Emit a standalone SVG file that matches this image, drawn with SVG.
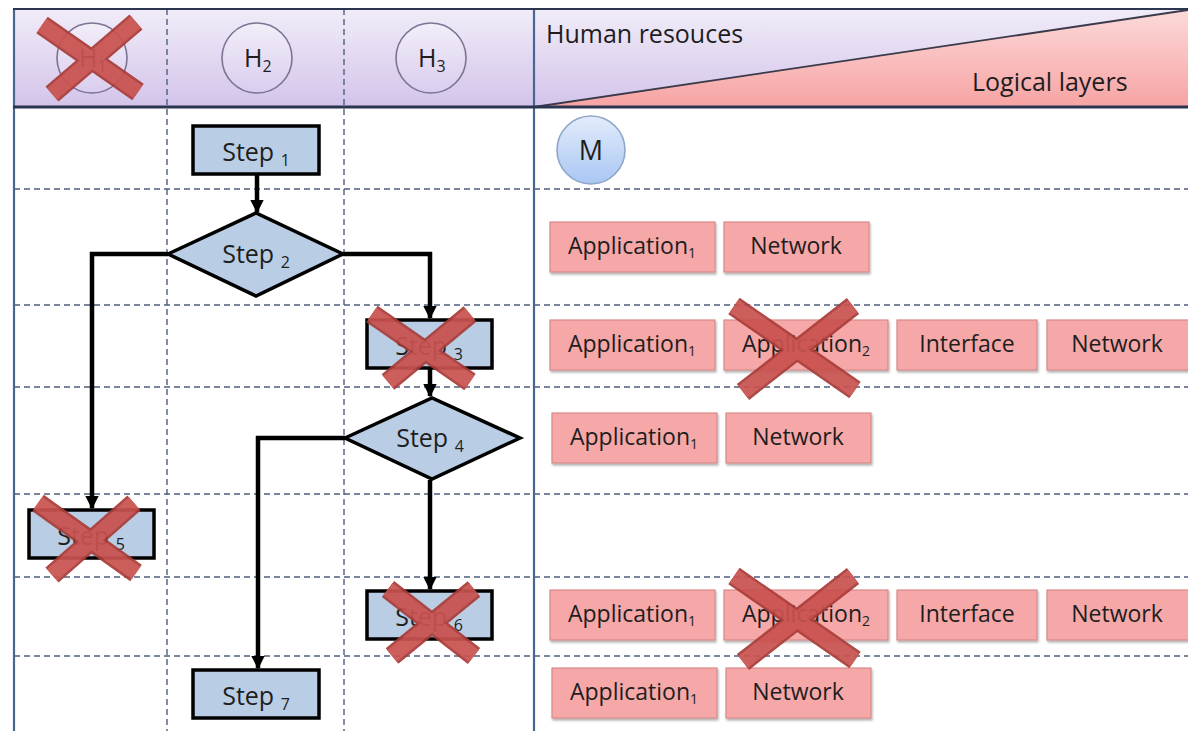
<svg xmlns="http://www.w3.org/2000/svg" width="1188" height="731" viewBox="0 0 1188 731">
<defs>
<linearGradient id="lav" x1="0" y1="0" x2="0" y2="1"><stop offset="0" stop-color="#f1ecf8"/><stop offset="1" stop-color="#d3c4ea"/></linearGradient>
<linearGradient id="pinkH" x1="0" y1="0" x2="0" y2="1"><stop offset="0" stop-color="#fcd9d9"/><stop offset="1" stop-color="#f7a3a3"/></linearGradient>
<linearGradient id="circ" x1="0" y1="0" x2="0" y2="1"><stop offset="0" stop-color="#f3eef9"/><stop offset="1" stop-color="#d9cdee"/></linearGradient>
<linearGradient id="mg" x1="0" y1="0" x2="0" y2="1"><stop offset="0" stop-color="#e3ecfb"/><stop offset="1" stop-color="#a9c6f3"/></linearGradient>
<marker id="arr" viewBox="0 0 10 10" refX="9" refY="5" markerWidth="3" markerHeight="3" orient="auto"><path d="M0,0 L10,5 L0,10 z" fill="#000"/></marker>
<filter id="sh" x="-10%" y="-10%" width="130%" height="140%"><feDropShadow dx="1" dy="2" stdDeviation="1.2" flood-color="#000" flood-opacity="0.3"/></filter>
</defs>
<style>
.t{font-family:"Open Sans","Liberation Sans",sans-serif;fill:#1e1e1e;}
.step{fill:#b9cde5;stroke:#000;stroke-width:3.5;}
.box{fill:#f6a7a7;stroke:#d68a8a;stroke-width:1.2;filter:url(#sh);}
.grid{stroke:#4f5f7f;stroke-width:1.4;stroke-dasharray:6 4;fill:none;}
.conn{stroke:#000;stroke-width:4.5;fill:none;marker-end:url(#arr);}
.x1{stroke:#a93c38;stroke-width:20;stroke-linecap:butt;}
.x2{stroke:#c9524f;stroke-width:15;stroke-linecap:butt;}
.hc{fill:url(#circ);stroke:#7d7394;stroke-width:1.6;}
</style>
<rect width="1188" height="731" fill="#fff"/>
<g id="header">
<rect x="14" y="9" width="520" height="98" fill="url(#lav)"/>
<polygon points="534,9 1188,9 1188,10 534,107" fill="url(#lav)"/>
<polygon points="534,107 1188,10 1188,107" fill="url(#pinkH)"/>
<line x1="534" y1="107" x2="1188" y2="10" stroke="#3a3a4a" stroke-width="1.8"/>
<text class="t" x="546" y="43" font-size="25">Human resouces</text>
<text class="t" x="972" y="91" font-size="25">Logical layers</text>
</g>
<g id="grid">
<line class="grid" x1="167" y1="9" x2="167" y2="731"/>
<line class="grid" x1="344" y1="9" x2="344" y2="731"/>
<line class="grid" x1="14" y1="189" x2="1188" y2="189"/>
<line class="grid" x1="14" y1="305" x2="1188" y2="305"/>
<line class="grid" x1="14" y1="387" x2="1188" y2="387"/>
<line class="grid" x1="14" y1="494" x2="1188" y2="494"/>
<line class="grid" x1="14" y1="577" x2="1188" y2="577"/>
<line class="grid" x1="14" y1="656" x2="1188" y2="656"/>
</g>
<g id="frame" fill="none">
<line x1="14" y1="9" x2="14" y2="731" stroke="#4a6592" stroke-width="2.2"/>
<line x1="534" y1="9" x2="534" y2="731" stroke="#4a6592" stroke-width="2.2"/>
<line x1="13" y1="9" x2="1188" y2="9" stroke="#2b3550" stroke-width="2.2"/>
<line x1="13" y1="107" x2="1188" y2="107" stroke="#2b3550" stroke-width="3"/>
</g>
<g id="H1"><circle class="hc" cx="92" cy="58" r="35"/><text class="t" x="79" y="67" font-size="25">H<tspan font-size="16" dy="5">1</tspan></text></g>
<g id="H2"><circle class="hc" cx="257" cy="58" r="35"/><text class="t" x="244" y="67" font-size="25">H<tspan font-size="16" dy="5">2</tspan></text></g>
<g id="H3"><circle class="hc" cx="431" cy="58" r="35"/><text class="t" x="418" y="67" font-size="25">H<tspan font-size="16" dy="5">3</tspan></text></g>
<g id="M"><circle cx="591" cy="150" r="34" fill="url(#mg)" stroke="#8ea6c8" stroke-width="1.6"/><text class="t" x="591" y="160" font-size="27" text-anchor="middle">M</text></g>
<g id="connectors">
<path class="conn" d="M257,174 L257,212"/>
<path class="conn" d="M168,254 L92,254 L92,508"/>
<path class="conn" d="M343,254 L430,254 L430,318"/>
<path class="conn" d="M430,368 L430,396"/>
<path class="conn" d="M345,438 L258,438 L258,668"/>
<path class="conn" d="M430,480 L430,589"/>
</g>
<g id="step1"><rect class="step" x="193" y="126" width="126" height="48"/><text class="t" x="256" y="161" font-size="25" text-anchor="middle">Step <tspan font-size="16" dy="5">1</tspan></text></g>
<g id="step2"><polygon class="step" points="168,254 256,213 343,254 256,296"/><text class="t" x="256" y="263" font-size="25" text-anchor="middle">Step <tspan font-size="16" dy="5">2</tspan></text></g>
<g id="step3"><rect class="step" x="367" y="320" width="125" height="48"/><text class="t" x="429" y="355" font-size="25" text-anchor="middle">Step <tspan font-size="16" dy="5">3</tspan></text></g>
<g id="step4"><polygon class="step" points="345,438 432,398 520,438 432,479"/><text class="t" x="430" y="447" font-size="25" text-anchor="middle">Step <tspan font-size="16" dy="5">4</tspan></text></g>
<g id="step5"><rect class="step" x="29" y="510" width="125" height="48"/><text class="t" x="91" y="545" font-size="25" text-anchor="middle">Step <tspan font-size="16" dy="5">5</tspan></text></g>
<g id="step6"><rect class="step" x="367" y="591" width="125" height="48"/><text class="t" x="429" y="626" font-size="25" text-anchor="middle">Step <tspan font-size="16" dy="5">6</tspan></text></g>
<g id="step7"><rect class="step" x="193" y="670" width="126" height="48"/><text class="t" x="256" y="705" font-size="25" text-anchor="middle">Step <tspan font-size="16" dy="5">7</tspan></text></g>
<g id="r2">
<rect class="box" x="550" y="222" width="165" height="50"/><text class="t" x="632" y="254" font-size="23" text-anchor="middle">Application<tspan font-size="14" dy="4">1</tspan></text>
<rect class="box" x="724" y="222" width="145" height="50"/><text class="t" x="796" y="254" font-size="23" text-anchor="middle">Network</text>
</g>
<g id="r3">
<rect class="box" x="550" y="320" width="165" height="50"/><text class="t" x="632" y="352" font-size="23" text-anchor="middle">Application<tspan font-size="14" dy="4">1</tspan></text>
<rect class="box" x="724" y="320" width="164" height="50"/><text class="t" x="806" y="352" font-size="23" text-anchor="middle">Application<tspan font-size="14" dy="4">2</tspan></text>
<rect class="box" x="897" y="320" width="140" height="50"/><text class="t" x="967" y="352" font-size="23" text-anchor="middle">Interface</text>
<rect class="box" x="1047" y="320" width="145" height="50"/><text class="t" x="1117" y="352" font-size="23" text-anchor="middle">Network</text>
</g>
<g id="r4">
<rect class="box" x="552" y="413" width="165" height="50"/><text class="t" x="634" y="445" font-size="23" text-anchor="middle">Application<tspan font-size="14" dy="4">1</tspan></text>
<rect class="box" x="726" y="413" width="145" height="50"/><text class="t" x="798" y="445" font-size="23" text-anchor="middle">Network</text>
</g>
<g id="r6">
<rect class="box" x="550" y="590" width="165" height="50"/><text class="t" x="632" y="622" font-size="23" text-anchor="middle">Application<tspan font-size="14" dy="4">1</tspan></text>
<rect class="box" x="724" y="590" width="164" height="50"/><text class="t" x="806" y="622" font-size="23" text-anchor="middle">Application<tspan font-size="14" dy="4">2</tspan></text>
<rect class="box" x="897" y="590" width="140" height="50"/><text class="t" x="967" y="622" font-size="23" text-anchor="middle">Interface</text>
<rect class="box" x="1047" y="590" width="145" height="50"/><text class="t" x="1117" y="622" font-size="23" text-anchor="middle">Network</text>
</g>
<g id="r7">
<rect class="box" x="552" y="668" width="165" height="50"/><text class="t" x="634" y="700" font-size="23" text-anchor="middle">Application<tspan font-size="14" dy="4">1</tspan></text>
<rect class="box" x="726" y="668" width="145" height="50"/><text class="t" x="798" y="700" font-size="23" text-anchor="middle">Network</text>
</g>
<g id="crosses" opacity="0.93">
<g><line class="x1" x1="42" y1="25" x2="138" y2="92"/><line class="x1" x1="136" y1="22" x2="52" y2="94"/><line class="x2" x1="42" y1="25" x2="138" y2="92"/><line class="x2" x1="136" y1="22" x2="52" y2="94"/></g>
<g><line class="x1" x1="372" y1="314" x2="470" y2="382"/><line class="x1" x1="470" y1="314" x2="388" y2="382"/><line class="x2" x1="372" y1="314" x2="470" y2="382"/><line class="x2" x1="470" y1="314" x2="388" y2="382"/></g>
<g><line class="x1" x1="38" y1="503" x2="136" y2="573"/><line class="x1" x1="134" y1="503" x2="52" y2="575"/><line class="x2" x1="38" y1="503" x2="136" y2="573"/><line class="x2" x1="134" y1="503" x2="52" y2="575"/></g>
<g><line class="x1" x1="388" y1="589" x2="474" y2="656"/><line class="x1" x1="474" y1="589" x2="392" y2="656"/><line class="x2" x1="388" y1="589" x2="474" y2="656"/><line class="x2" x1="474" y1="589" x2="392" y2="656"/></g>
<g><line class="x1" x1="734" y1="306" x2="855" y2="390"/><line class="x1" x1="853" y1="306" x2="743" y2="392"/><line class="x2" x1="734" y1="306" x2="855" y2="390"/><line class="x2" x1="853" y1="306" x2="743" y2="392"/></g>
<g><line class="x1" x1="734" y1="576" x2="855" y2="660"/><line class="x1" x1="853" y1="576" x2="743" y2="662"/><line class="x2" x1="734" y1="576" x2="855" y2="660"/><line class="x2" x1="853" y1="576" x2="743" y2="662"/></g>
</g>
</svg>
